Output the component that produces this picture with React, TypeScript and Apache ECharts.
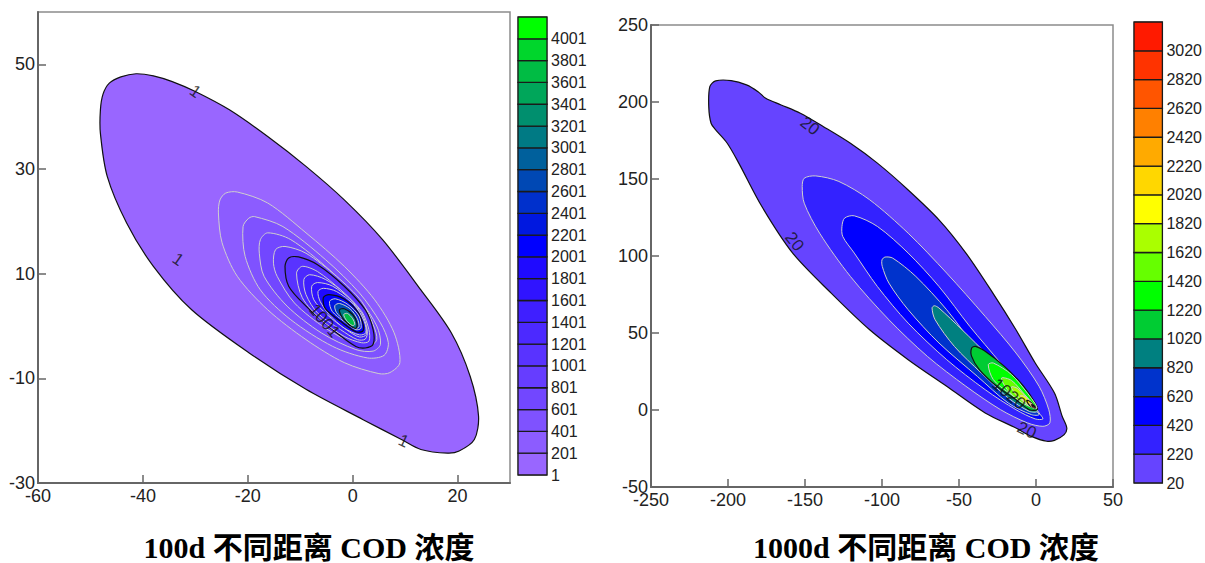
import React, { useEffect, useRef } from "react";
import * as echarts from "echarts";

// ---------- colour bar levels and colours ----------
const leftLevels = [1, 201, 401, 601, 801, 1001, 1201, 1401, 1601, 1801, 2001, 2201, 2401, 2601, 2801, 3001, 3201, 3401, 3601, 3801, 4001];
const leftColors = ["#9966ff", "#8c5cff", "#7f52ff", "#7247ff", "#663dff", "#5933ff", "#4c29ff", "#3f1fff", "#3014ff", "#1f0aff", "#0000ff", "#0018e0", "#0030cc", "#0048b4", "#00609c", "#007a84", "#008f6e", "#00a65a", "#00bc44", "#00d62c", "#00ff00"];
const rightLevels = [20, 220, 420, 620, 820, 1020, 1220, 1420, 1620, 1820, 2020, 2220, 2420, 2620, 2820, 3020];
const rightColors = ["#6644ff", "#3322ff", "#0000ff", "#0033cc", "#008080", "#00cc33", "#00ff00", "#66ff00", "#aaff00", "#ffff00", "#ffd700", "#ffaa00", "#ff8000", "#ff5500", "#ff3300", "#ff1a00"];

// ---------- axis ticks ----------
const leftXTicks = [-60, -40, -20, 0, 20];
const leftYTicks = [-30, -10, 10, 30, 50];
const rightXTicks = [-250, -200, -150, -100, -50, 0, 50];
const rightYTicks = [-50, 0, 50, 100, 150, 200, 250];

// ---------- titles ----------
const leftTitle = "100d 不同距离 COD 浓度";
const rightTitle = "1000d 不同距离 COD 浓度";

// ---------- left plot (100d) contour outlines, [x, y] ----------
const L1 = [[-48.1, 41.3], [-47.6, 44.3], [-46.4, 46.4], [-44.2, 47.6], [-41.3, 48.2], [-38.0, 47.8], [-34.4, 46.7], [-30.0, 44.8], [-23.5, 41.3], [-16.2, 36.2], [-8.9, 30.5], [-1.6, 24.1], [5.7, 16.5], [13.0, 6.9], [18.8, -1.3], [22.4, -9.6], [24.0, -17.2], [23.2, -21.7], [20.3, -23.9], [18.1, -24.3], [13.0, -23.6], [9.3, -21.7], [2.0, -17.9], [-8.9, -12.1], [-19.8, -5.1], [-30.7, 3.1], [-38.0, 11.4], [-43.1, 19.7], [-46.8, 28.6], [-48.1, 36.8]];
const L201 = [[-25.6, 21.6], [-25.3, 24.1], [-24.2, 25.4], [-22.0, 25.6], [-16.2, 23.5], [-8.9, 17.8], [-1.6, 11.4], [4.2, 5.0], [7.9, -1.3], [9.0, -7.0], [7.1, -8.9], [5.0, -9.1], [-1.6, -7.0], [-8.9, -2.6], [-16.2, 3.1], [-22.0, 9.5], [-24.9, 15.9]];
const L401 = [[-20.9, 19.0], [-19.8, 20.6], [-18.7, 20.9], [-13.3, 19.0], [-5.2, 12.7], [1.3, 6.3], [5.3, 0.6], [6.8, -3.2], [6.0, -5.6], [2.8, -6.1], [-3.8, -3.9], [-11.8, 1.2], [-17.6, 6.9], [-20.5, 13.3]];
const L601 = [[-17.8, 13.9], [-17.6, 16.5], [-16.2, 17.8], [-11.8, 16.5], [-4.5, 10.8], [1.3, 5.0], [4.6, 0.0], [5.3, -3.5], [3.9, -4.8], [0.6, -4.5], [-6.0, -1.3], [-12.5, 3.8], [-16.9, 9.5]];
const L801 = [[-15.1, 12.0], [-14.7, 14.6], [-12.9, 15.2], [-8.9, 13.9], [-3.1, 9.5], [1.7, 4.7], [3.9, 0.3], [4.6, -2.6], [3.1, -3.9], [0.6, -3.5], [-5.2, -0.4], [-11.1, 4.4], [-14.4, 9.5]];
const L1001 = [[-12.9, 11.4], [-12.2, 13.0], [-10.3, 13.2], [-6.7, 11.7], [-1.6, 7.6], [2.4, 3.1], [3.9, -0.7], [3.9, -3.5], [2.4, -4.2], [0.6, -3.9], [-3.8, -0.7], [-8.9, 3.8], [-12.2, 7.6]];
const L1201 = [[-10.7, 10.1], [-9.6, 11.4], [-6.7, 10.4], [-2.3, 6.9], [1.7, 2.8], [3.1, -0.7], [3.1, -2.9], [1.7, -3.2], [-1.6, -2.0], [-6.0, 1.2], [-9.6, 5.4]];
const L1401 = [[-9.3, 8.9], [-8.2, 9.8], [-5.2, 8.9], [-1.6, 6.3], [1.7, 2.5], [2.8, -1.0], [2.4, -2.5], [0.9, -2.6], [-2.3, -0.7], [-6.7, 2.5], [-8.9, 6.0]];
const L1601 = [[-7.8, 7.6], [-6.7, 8.3], [-3.8, 7.6], [-0.1, 4.7], [2.0, 1.2], [2.6, -1.6], [1.3, -2.1], [-1.2, -0.7], [-4.9, 2.2], [-7.4, 5.0]];
const L1801 = [[-6.6, 6.6], [-5.6, 7.2], [-3.1, 6.6], [0.2, 4.1], [2.2, 0.9], [2.5, -1.3], [1.3, -1.7], [-1.6, -0.4], [-4.5, 2.2], [-6.2, 4.7]];
const L2001 = [[-5.6, 5.4], [-4.5, 6.0], [-1.7, 5.2], [0.9, 2.8], [2.0, 0.3], [1.9, -1.0], [0.6, -1.1], [-2.3, 0.9], [-5.2, 3.3]];
const L2201 = [[-4.4, 4.7], [-3.3, 5.2], [-0.9, 4.1], [1.2, 1.9], [1.6, -0.4], [0.6, -0.7], [-1.7, 0.9], [-3.9, 2.8]];
const L2601 = [[-3.4, 3.9], [-2.5, 4.3], [-0.5, 3.3], [0.9, 1.4], [1.2, -0.2], [0.3, -0.4], [-1.6, 1.1], [-3.1, 2.6]];
const L3001 = [[-2.5, 3.1], [-1.6, 3.3], [0.0, 2.2], [0.8, 0.6], [0.7, -0.4], [-0.1, -0.2], [-1.6, 1.1], [-2.3, 2.2]];
const L3601 = [[-1.7, 2.2], [-1.0, 2.4], [0.0, 1.4], [0.4, 0.3], [-0.1, 0.1], [-1.2, 1.1]];

const leftContours = [
  { level: 1, pts: L1 }, { level: 201, pts: L201 }, { level: 401, pts: L401 }, { level: 601, pts: L601 },
  { level: 801, pts: L801 }, { level: 1001, pts: L1001 }, { level: 1201, pts: L1201 }, { level: 1401, pts: L1401 },
  { level: 1601, pts: L1601 }, { level: 1801, pts: L1801 }, { level: 2001, pts: L2001 }, { level: 2201, pts: L2201 },
  { level: 2601, pts: L2601 }, { level: 3001, pts: L3001 }, { level: 3601, pts: L3601 },
];

// contour labels: [x, y, text, rotation]
const leftLabels = [[-30.0, 44.8, "1", -35], [-33.3, 12.7, "1", -35], [9.7, -22.0, "1", -25], [-5.4, 1.0, "1001", -50]];

// ---------- right plot (1000d) contour outlines ----------
const R20 = [[-211.8, 210.0], [-208.0, 213.7], [-198.0, 213.9], [-188.0, 211.1], [-180.5, 206.7], [-175.5, 202.4], [-165.5, 198.1], [-153.0, 192.7], [-138.0, 184.0], [-120.5, 173.2], [-103.0, 160.3], [-83.0, 142.9], [-63.0, 123.5], [-45.5, 101.9], [-28.0, 75.9], [-13.0, 52.1], [-0.5, 30.5], [12.0, 11.0], [17.0, -4.1], [20.0, -11.7], [18.3, -16.0], [12.0, -19.7], [7.0, -20.3], [-3.0, -17.1], [-13.0, -11.7], [-33.0, -1.9], [-58.0, 15.4], [-83.0, 32.7], [-108.0, 52.1], [-133.0, 75.9], [-158.0, 101.9], [-178.0, 132.1], [-193.0, 160.3], [-200.5, 173.2], [-208.0, 181.9], [-211.0, 186.2], [-212.5, 197.0]];
const R220 = [[-151.8, 145.1], [-150.5, 150.5], [-143.0, 152.0], [-128.0, 148.4], [-108.0, 136.5], [-83.0, 114.8], [-58.0, 88.9], [-33.0, 60.8], [-13.0, 37.0], [2.0, 15.4], [8.3, 0.2], [9.0, -8.4], [4.5, -10.6], [-5.5, -8.4], [-23.0, 0.2], [-45.5, 15.4], [-70.5, 34.8], [-95.5, 58.6], [-120.5, 86.7], [-140.5, 114.8], [-150.5, 134.3]];
const R420 = [[-126.0, 119.2], [-124.3, 124.6], [-118.0, 126.1], [-103.0, 119.2], [-83.0, 101.9], [-63.0, 80.2], [-43.0, 54.3], [-23.0, 30.5], [-5.5, 8.9], [2.0, -1.9], [4.5, -5.8], [-0.5, -5.8], [-13.0, 0.2], [-33.0, 13.2], [-58.0, 32.7], [-83.0, 56.4], [-103.0, 80.2], [-118.0, 101.9], [-125.5, 112.7]];
const R620 = [[-100.0, 97.5], [-98.0, 99.3], [-93.0, 98.6], [-78.0, 86.7], [-58.0, 65.1], [-38.0, 39.1], [-18.0, 17.5], [-3.0, 2.4], [2.0, -3.0], [-3.0, -3.0], [-18.0, 4.5], [-38.0, 21.8], [-63.0, 43.5], [-83.0, 65.1], [-95.5, 82.4], [-99.8, 93.2]];
const R820 = [[-67.5, 66.2], [-66.0, 67.7], [-63.0, 66.2], [-48.0, 52.1], [-30.5, 34.8], [-13.0, 17.5], [-1.8, 4.5], [0.8, -0.9], [-4.3, -0.9], [-18.0, 7.8], [-35.5, 24.0], [-53.0, 41.3], [-65.5, 58.6]];
const R1020 = [[-41.8, 40.2], [-39.3, 41.3], [-33.0, 38.1], [-20.5, 28.3], [-8.0, 15.4], [-0.5, 4.5], [0.8, 0.2], [-4.3, 0.2], [-13.0, 6.7], [-25.5, 15.4], [-36.8, 26.2], [-41.8, 34.8]];
const R1220 = [[-31.0, 29.4], [-27.7, 30.5], [-15.9, 23.0], [-5.2, 10.5], [-0.5, 4.0], [0.6, 1.2], [-0.8, 1.0], [-7.3, 4.5], [-18.1, 11.5], [-27.7, 19.7]];
const R1420 = [[-22.4, 20.7], [-15.9, 19.2], [-7.3, 10.0], [-1.5, 3.5], [0.3, 1.2], [-0.8, 1.0], [-9.5, 5.0], [-18.1, 12.5]];
const R1620 = [[-16.0, 15.0], [-12.0, 14.0], [-5.0, 7.0], [-0.5, 2.2], [0.0, 1.2], [-1.5, 1.1], [-7.0, 4.6], [-13.0, 10.0]];
const R1820 = [[-10.0, 9.5], [-7.0, 8.5], [-2.5, 4.0], [-0.2, 1.4], [-1.2, 1.2], [-5.0, 3.4], [-8.5, 6.5]];
const R2020 = [[-6.0, 6.2], [-4.0, 5.6], [-1.2, 2.6], [-0.3, 1.4], [-1.2, 1.3], [-4.0, 2.9]];
const R2420 = [[-4.2, 4.6], [-2.5, 3.8], [-0.6, 1.8], [-1.2, 1.5], [-3.0, 2.5]];
const R3020 = [[-2.8, 3.4], [-1.5, 2.9], [-0.6, 1.9], [-1.3, 1.8], [-2.2, 2.4]];

const rightContours = [
  { level: 20, pts: R20 }, { level: 220, pts: R220 }, { level: 420, pts: R420 }, { level: 620, pts: R620 },
  { level: 820, pts: R820 }, { level: 1020, pts: R1020 }, { level: 1220, pts: R1220 }, { level: 1420, pts: R1420 },
  { level: 1620, pts: R1620 }, { level: 1820, pts: R1820 }, { level: 2020, pts: R2020 }, { level: 2420, pts: R2420 },
  { level: 3020, pts: R3020 },
];

const rightLabels = [[-146.8, 184.5, "20", -38], [-156.8, 109.4, "20", -52], [-6.0, -13.2, "20", -25], [-17.5, 10.4, "1020", -40]];

// ---------- helpers ----------
const AXIS_FONT = '"Liberation Sans", Arial, sans-serif';

function contourSeries(contours: any[], levels: number[], colors: string[], axis: number) {
  const items = contours.map((c) => {
    const idx = levels.indexOf(c.level);
    return {
      pts: c.pts,
      fill: colors[idx],
      stroke: idx % 5 === 0 ? "#111111" : "#cfcfcf",
      lw: idx % 5 === 0 ? 1.2 : 1,
    };
  });
  return {
    type: "custom",
    xAxisIndex: axis,
    yAxisIndex: axis,
    clip: true,
    silent: true,
    data: contours.map((c) => c.pts[0]),
    renderItem: (params: any, api: any) => {
      const it = items[params.dataIndex];
      const points = it.pts.map((p: number[]) => api.coord(p));
      return {
        type: "polygon",
        shape: { points, smooth: 0.3 },
        style: { fill: it.fill, stroke: it.stroke, lineWidth: it.lw },
      };
    },
  };
}

function labelSeries(labels: any[], axis: number) {
  return {
    type: "scatter",
    xAxisIndex: axis,
    yAxisIndex: axis,
    symbolSize: 1,
    silent: true,
    itemStyle: { color: "rgba(0,0,0,0)" },
    data: labels.map((l) => ({
      value: [l[0], l[1]],
      label: { show: true, formatter: l[2], rotate: l[3], position: "inside", color: "#111", fontSize: 17, fontFamily: AXIS_FONT },
    })),
  };
}

function colorbarSeries(levels: number[], colors: string[], axis: number) {
  return {
    type: "custom",
    xAxisIndex: axis,
    yAxisIndex: axis,
    silent: true,
    data: levels.map((_, i) => [0, i]),
    renderItem: (params: any, api: any) => {
      const i = params.dataIndex;
      const p0 = api.coord([0, i]);
      const p1 = api.coord([1, i + 1]);
      return {
        type: "rect",
        shape: { x: p0[0], y: p1[1], width: p1[0] - p0[0], height: p0[1] - p1[1] },
        style: { fill: colors[i], stroke: "#1a1a1a", lineWidth: 1.3 },
      };
    },
  };
}

function plotAxis(grid: number, min: number, max: number, ticks: number[], isX: boolean) {
  return {
    type: "value",
    gridIndex: grid,
    min,
    max,
    axisLine: { show: true, onZero: false, lineStyle: { color: "#666", width: 2 } },
    axisTick: { show: true, inside: true, length: 8, customValues: ticks, lineStyle: { color: "#666", width: 1.5 } },
    axisLabel: { customValues: ticks, color: "#222", fontSize: 18, fontFamily: AXIS_FONT, margin: isX ? 4 : 3 },
    splitLine: { show: false },
  };
}

function barXAxis(grid: number) {
  return { type: "value", gridIndex: grid, min: 0, max: 1, show: false };
}

function barYAxis(grid: number, levels: number[]) {
  return {
    type: "value",
    gridIndex: grid,
    position: "right",
    min: 0,
    max: levels.length,
    axisLine: { show: false },
    axisTick: { show: false },
    splitLine: { show: false },
    axisLabel: {
      customValues: levels.map((_, i) => i),
      formatter: (v: number) => String(levels[v]),
      color: "#222",
      fontSize: 16,
      fontFamily: AXIS_FONT,
      margin: 4,
    },
  };
}

function titleText(text: string, cx: number) {
  return {
    type: "text",
    x: cx,
    y: 547,
    style: {
      text,
      align: "center",
      verticalAlign: "middle",
      fill: "#000",
      fontFamily: '"Liberation Serif", "Noto Sans CJK SC", serif',
      fontWeight: "bold",
      fontSize: 30,
    },
  };
}

export default function App() {
  const ref = useRef<HTMLDivElement>(null);
  useEffect(() => {
    if (!ref.current) return;
    const chart = echarts.init(ref.current, null, { renderer: "svg" });
    chart.setOption({
      animation: false,
      backgroundColor: "#ffffff",
      grid: [
        { left: 38, top: 12, width: 472, height: 471, show: true, borderColor: "#8c8c8c", borderWidth: 1.5, backgroundColor: "#fff" },
        { left: 518, top: 17, width: 29, height: 458, show: true, borderColor: "#777", borderWidth: 1 },
        { left: 651, top: 25, width: 462, height: 462, show: true, borderColor: "#8c8c8c", borderWidth: 1.5, backgroundColor: "#fff" },
        { left: 1134, top: 22, width: 29, height: 461, show: true, borderColor: "#777", borderWidth: 1 },
      ],
      xAxis: [
        plotAxis(0, -60, 30, leftXTicks, true),
        barXAxis(1),
        plotAxis(2, -250, 50, rightXTicks, true),
        barXAxis(3),
      ],
      yAxis: [
        plotAxis(0, -30, 60, leftYTicks, false),
        barYAxis(1, leftLevels),
        plotAxis(2, -50, 250, rightYTicks, false),
        barYAxis(3, rightLevels),
      ],
      series: [
        contourSeries(leftContours, leftLevels, leftColors, 0),
        labelSeries(leftLabels, 0),
        colorbarSeries(leftLevels, leftColors, 1),
        contourSeries(rightContours, rightLevels, rightColors, 2),
        labelSeries(rightLabels, 2),
        colorbarSeries(rightLevels, rightColors, 3),
      ],
      graphic: [titleText(leftTitle, 309), titleText(rightTitle, 926)],
    });
    return () => chart.dispose();
  }, []);
  return <div ref={ref} style={{ position: "fixed", left: 0, top: 0, width: 1205, height: 563 }} />;
}
